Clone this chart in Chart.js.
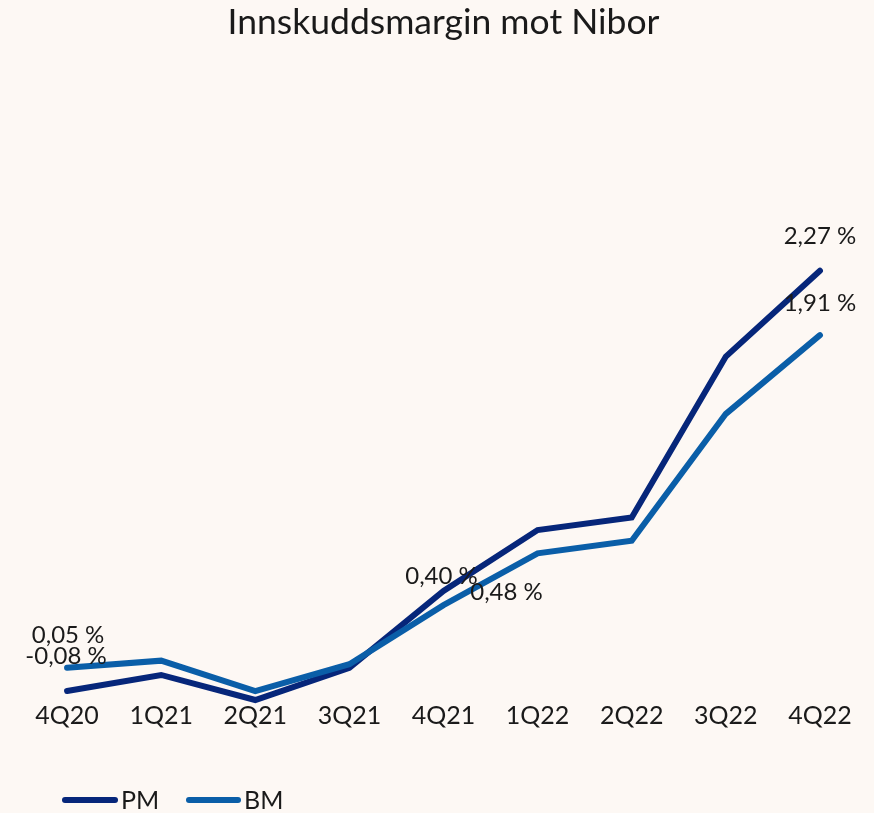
<!DOCTYPE html>
<html>
<head>
<meta charset="utf-8">
<script src="https://cdn.jsdelivr.net/npm/chart.js@4"></script>
<style>
  html, body { margin: 0; padding: 0; background: #fdf8f4; }
  #wrap { width: 874px; height: 813px; position: relative; }
</style>
</head>
<body>
<div id="wrap"><canvas id="c" width="874" height="813"></canvas></div>
<script>
const titleText = 'Innskuddsmargin mot Nibor';
const categories = ['4Q20', '1Q21', '2Q21', '3Q21', '4Q21', '1Q22', '2Q22', '3Q22', '4Q22'];
const seriesNames = ['PM', 'BM'];
const pmValues = [-0.08, 0.01, -0.13, 0.05, 0.48, 0.82, 0.89, 1.79, 2.27];
const bmValues = [0.05, 0.09, -0.08, 0.07, 0.40, 0.69, 0.76, 1.47, 1.91];
const pmLabels = ['-0,08 %', '', '', '', '0,48 %', '', '', '', '2,27 %'];
const bmLabels = ['0,05 %', '', '', '', '0,40 %', '', '', '', '1,91 %'];

const FONT = 'Lato, "Open Sans", sans-serif';
const TEXT = '#1a1a1a';
const PM_COLOR = '#06267a';
const BM_COLOR = '#0a5ea8';

// label placement (pixel offsets from point), per dataset index
const labelOffsets = [
  { 0: [-1, -35], 4: [63, 1], 8: [0, -34] },
  { 0: [1, -33], 4: [-2, -29], 8: [0, -32] }
];
const labelTexts = [pmLabels, bmLabels];

const bgPlugin = {
  id: 'bg',
  beforeDraw(chart) {
    const ctx = chart.ctx;
    ctx.save();
    ctx.fillStyle = '#fdf8f4';
    ctx.fillRect(0, 0, chart.width, chart.height);
    ctx.restore();
  }
};

const labelPlugin = {
  id: 'valueLabels',
  afterDatasetsDraw(chart) {
    const ctx = chart.ctx;
    ctx.save();
    ctx.font = '24px ' + FONT;
    ctx.fillStyle = TEXT;
    ctx.textAlign = 'center';
    ctx.textBaseline = 'middle';
    chart.data.datasets.forEach((ds, di) => {
      const meta = chart.getDatasetMeta(di);
      meta.data.forEach((pt, i) => {
        const t = labelTexts[di][i];
        if (!t) return;
        const off = labelOffsets[di][i] || [0, -30];
        ctx.fillText(t, pt.x + off[0], pt.y + off[1]);
      });
    });
    ctx.restore();
  }
};

const legendPlugin = {
  id: 'customLegend',
  afterDraw(chart) {
    const ctx = chart.ctx;
    const y = 800;
    const items = [
      { x: 62, w: 56, color: PM_COLOR, text: seriesNames[0] },
      { x: 186, w: 55, color: BM_COLOR, text: seriesNames[1] }
    ];
    ctx.save();
    ctx.font = '25px ' + FONT;
    ctx.fillStyle = TEXT;
    ctx.textBaseline = 'middle';
    ctx.textAlign = 'left';
    items.forEach(it => {
      ctx.strokeStyle = it.color;
      ctx.lineWidth = 6;
      ctx.lineCap = 'round';
      ctx.beginPath();
      ctx.moveTo(it.x + 3, y);
      ctx.lineTo(it.x + it.w - 3, y);
      ctx.stroke();
      ctx.fillStyle = TEXT;
      ctx.fillText(it.text, it.x + it.w + 3, y + 1);
    });
    ctx.restore();
  }
};

new Chart(document.getElementById('c'), {
  type: 'line',
  data: {
    labels: categories,
    datasets: [
      {
        label: seriesNames[0], data: pmValues, borderColor: PM_COLOR, backgroundColor: PM_COLOR,
        borderWidth: 6, pointRadius: 0, tension: 0, borderCapStyle: 'round', borderJoinStyle: 'miter', order: 1, clip: false
      },
      {
        label: seriesNames[1], data: bmValues, borderColor: BM_COLOR, backgroundColor: BM_COLOR,
        borderWidth: 6, pointRadius: 0, tension: 0, borderCapStyle: 'round', borderJoinStyle: 'miter', order: 0, clip: false
      }
    ]
  },
  options: {
    responsive: false,
    animation: false,
    devicePixelRatio: 1,
    layout: { padding: { left: 20, right: 7, top: 0, bottom: 81 } },
    plugins: {
      legend: { display: false },
      tooltip: { enabled: false },
      title: {
        display: true,
        text: titleText,
        color: TEXT,
        font: { family: FONT, size: 35.5, weight: 'normal' },
        padding: { top: 1, bottom: 186 }
      }
    },
    scales: {
      x: {
        offset: true,
        grid: { display: false, drawTicks: false },
        border: { display: false },
        ticks: { color: TEXT, font: { family: FONT, size: 25 }, padding: 1, maxRotation: 0 }
      },
      y: {
        display: false,
        min: -0.13,
        max: 2.5
      }
    }
  },
  plugins: [bgPlugin, labelPlugin, legendPlugin]
});
</script>
</body>
</html>
